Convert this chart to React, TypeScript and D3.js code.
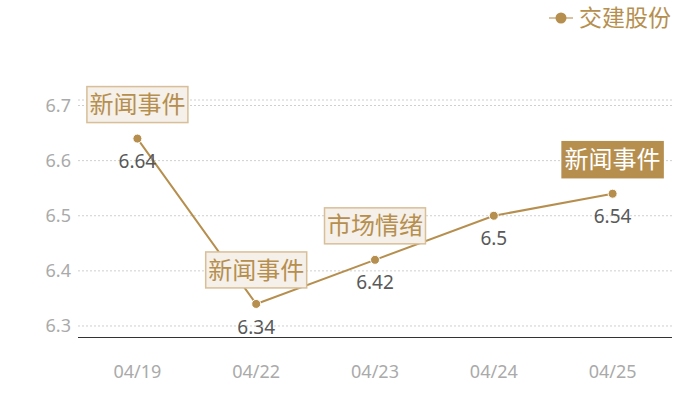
import React, { useEffect, useRef } from "react";
import * as d3 from "d3";

const dates = ["04/19", "04/22", "04/23", "04/24", "04/25"];
const prices = [6.64, 6.34, 6.42, 6.5, 6.54];
const notes = ["新闻事件", "新闻事件", "市场情绪", "", "新闻事件"];
const highlighted = [false, false, false, false, true];
const yTicks = [6.3, 6.4, 6.5, 6.6, 6.7];
const seriesName = "交建股份";

const gold = "#b68f4f";
const font = "'Noto Sans', 'Noto Sans CJK SC', sans-serif";

const App = () => {
  const ref = useRef<SVGSVGElement>(null);

  useEffect(() => {
    const svg = d3.select(ref.current);
    svg.selectAll("*").remove();

    const x = d3.scalePoint<string>().domain(dates).range([78, 672]).padding(0.5);
    const y = d3.scaleLinear().domain([6.28, 6.71]).range([337, 100]);

    // grid
    svg
      .append("g")
      .selectAll("line")
      .data([...yTicks, 6.71])
      .enter()
      .append("line")
      .attr("x1", 78)
      .attr("x2", 672)
      .attr("y1", (d) => y(d))
      .attr("y2", (d) => y(d))
      .attr("stroke", "#cfcfcf")
      .attr("stroke-dasharray", "2,2");

    // y labels
    svg
      .append("g")
      .attr("font-family", font)
      .attr("font-size", 18)
      .attr("fill", "#aaaaaa")
      .attr("text-anchor", "end")
      .selectAll("text")
      .data(yTicks)
      .enter()
      .append("text")
      .attr("x", 71)
      .attr("y", (d) => y(d))
      .attr("dy", "0.35em")
      .text((d) => d3.format(".1f")(d));

    // x axis line
    svg
      .append("line")
      .attr("x1", 78)
      .attr("x2", 672)
      .attr("y1", 337.5)
      .attr("y2", 337.5)
      .attr("stroke", "#333");

    svg
      .append("g")
      .attr("font-family", font)
      .attr("font-size", 18)
      .attr("fill", "#aaaaaa")
      .attr("text-anchor", "middle")
      .selectAll("text")
      .data(dates)
      .enter()
      .append("text")
      .attr("x", (d) => x(d)!)
      .attr("y", 372)
      .attr("dy", "0.35em")
      .text((d) => d);

    const pts = dates.map((d, i) => ({ d, v: prices[i], note: notes[i], hi: highlighted[i] }));

    const line = d3
      .line<(typeof pts)[0]>()
      .x((p) => x(p.d)!)
      .y((p) => y(p.v));

    svg
      .append("path")
      .datum(pts)
      .attr("d", line)
      .attr("fill", "none")
      .attr("stroke", gold)
      .attr("stroke-width", 2);

    svg
      .append("g")
      .selectAll("circle")
      .data(pts)
      .enter()
      .append("circle")
      .attr("cx", (p) => x(p.d)!)
      .attr("cy", (p) => y(p.v))
      .attr("r", 4.5)
      .attr("fill", gold)
      .attr("stroke", "#fff")
      .attr("stroke-width", 1);

    // value labels
    svg
      .append("g")
      .attr("font-family", font)
      .attr("font-size", 19)
      .attr("fill", "#595959")
      .attr("text-anchor", "middle")
      .selectAll("text")
      .data(pts)
      .enter()
      .append("text")
      .attr("x", (p) => x(p.d)!)
      .attr("y", (p) => y(p.v) + 23)
      .attr("dy", "0.35em")
      .text((p) => String(p.v));

    // annotations
    const ann = svg
      .append("g")
      .selectAll("g")
      .data(pts.filter((p) => p.note))
      .enter()
      .append("g")
      .attr("transform", (p) => `translate(${x(p.d)},${y(p.v) - 16})`);

    ann
      .append("rect")
      .attr("x", -50.5)
      .attr("y", -36)
      .attr("width", 101)
      .attr("height", 36)
      .attr("fill", (p) => (p.hi ? gold : "#f5f0ea"))
      .attr("stroke", (p) => (p.hi ? gold : "#d8bf97"))
      .attr("stroke-width", 1.5);

    ann
      .append("text")
      .attr("font-family", font)
      .attr("font-size", 24)
      .attr("text-anchor", "middle")
      .attr("y", -18)
      .attr("dy", "0.36em")
      .attr("fill", (p) => (p.hi ? "#fff" : gold))
      .text((p) => p.note);

    // legend
    const lg = svg.append("g").attr("transform", "translate(549,18)");
    lg.append("line").attr("x1", 0).attr("x2", 24).attr("stroke", "#d9c29c").attr("stroke-width", 2);
    lg.append("circle").attr("cx", 12).attr("r", 5.5).attr("fill", gold);
    lg.append("text")
      .attr("x", 30)
      .attr("dy", "0.36em")
      .attr("font-family", font)
      .attr("font-size", 23)
      .attr("fill", gold)
      .text(seriesName);
  }, []);

  return (
    <svg
      ref={ref}
      width={700}
      height={400}
      style={{ position: "absolute", left: 0, top: 0, background: "#fff" }}
    />
  );
};

export default App;
